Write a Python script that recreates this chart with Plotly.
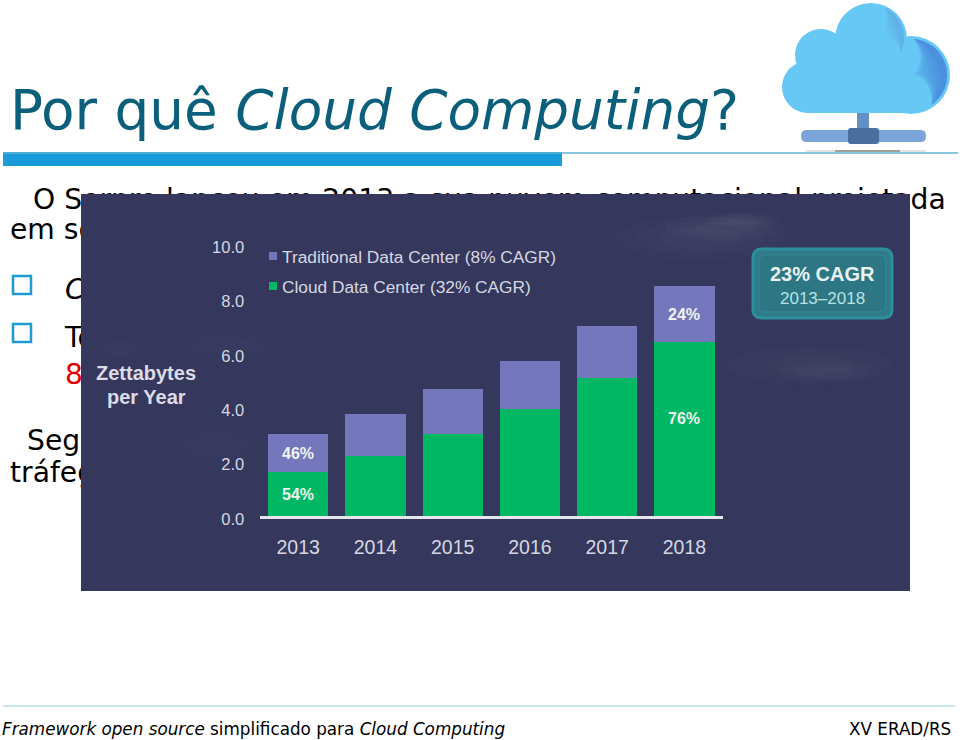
import numpy as np
import plotly.graph_objects as go

# ---- chart data ----
years = ["2013", "2014", "2015", "2016", "2017", "2018"]
cloud_dc = [1.6, 2.2, 3.0, 3.93, 5.07, 6.4]
traditional_dc = [1.4, 1.55, 1.67, 1.77, 1.93, 2.06]
y_ticks = [0, 2, 4, 6, 8, 10]
legend_labels = ["Traditional Data Center (8% CAGR)", "Cloud Data Center (32% CAGR)"]
pct_years = ["2013", "2013", "2018", "2018"]
pct_values = [2.3, 0.8, 7.4, 3.6]
pct_labels = ["46%", "54%", "24%", "76%"]

# ---- slide text (x px, y px, text, size, colour, anchor) ----
slide_x = [10, 33, 10, 65, 65, 65, 27, 10]
slide_y = [115, 202, 232, 292, 340, 377, 443, 475]
slide_text = ["Por quê <i>Cloud Computing</i>?",
              "O Serpro lançou em 2013 a sua nuvem computacional projetada",
              "em so", "<i>C</i>", "To", "8", "Seg", "tráfeg"]
slide_size = [54.8, 28.2, 28.2, 28.2, 28.2, 28.2, 28.2, 28.2]
slide_color = ["#0b5f7a", "#000", "#000", "#000", "#000", "#e00000", "#000", "#000"]

W, H = 960, 740
BG = "#35375c"
PURPLE = "#7577bd"
GREEN = "#00b864"
LABEL = "#d6d7e2"
SANS = "Liberation Sans"


def px(x):
    return x / W


def py(y):
    return 1 - y / H


def ellipse(cx, cy, rx, ry):
    t = np.linspace(0, 2 * np.pi, 60)
    return cx + rx * np.cos(t), cy + ry * np.sin(t)


def crescent(cx, cy, r, a0, a1, w):
    t = np.radians(np.linspace(a0, a1, 50))
    thick = w * np.sin(np.linspace(0, np.pi, 50))
    xo, yo = cx + r * np.cos(t), cy + r * np.sin(t)
    xi, yi = cx + (r - thick) * np.cos(t), cy + (r - thick) * np.sin(t)
    xs = np.concatenate([xo, xi[::-1]])
    ys = np.concatenate([yo, yi[::-1]])
    return "M" + "L".join(f"{a:.1f},{b:.1f}" for a, b in zip(xs, ys)) + "Z"


fig = go.Figure()

# text that lies behind the picture
fig.add_trace(go.Scatter(x=slide_x, y=slide_y, text=slide_text, mode="text",
                         textposition="middle right", cliponaxis=False, showlegend=False,
                         hoverinfo="skip",
                         textfont=dict(family="DejaVu Sans", size=slide_size, color=slide_color),
                         xaxis="x", yaxis="y"))
# the dark picture panel covering it
fig.add_trace(go.Scatter(x=[81, 910, 910, 81, 81], y=[194, 194, 591, 591, 194], mode="lines",
                         fill="toself", fillcolor=BG, line=dict(width=0), showlegend=False,
                         hoverinfo="skip", xaxis="x", yaxis="y"))
# faint clouds in the panel background (several soft layers)
for cx, cy, rx, ry, a in [(700, 238, 85, 22, .02), (725, 228, 60, 14, .022), (745, 220, 36, 8, .022),
                          (810, 365, 85, 20, .015), (830, 372, 50, 11, .018), (230, 345, 60, 12, .012),
                          (215, 445, 50, 16, .012), (120, 350, 30, 12, .012)]:
    for k in (1.0, 0.75, 0.5):
        ex, ey = ellipse(cx, cy, rx * k, ry * k)
        fig.add_trace(go.Scatter(x=ex, y=ey, mode="lines", fill="toself", line=dict(width=0),
                                 fillcolor=f"rgba(200,200,220,{a})", showlegend=False,
                                 hoverinfo="skip", xaxis="x", yaxis="y"))

# stacked bars on their own axes, drawn over the panel
fig.add_trace(go.Bar(x=years, y=cloud_dc, name="Cloud Data Center", marker=dict(color=GREEN, line_width=0),
                     showlegend=False, xaxis="x2", yaxis="y2"))
fig.add_trace(go.Bar(x=years, y=traditional_dc, name="Traditional Data Center",
                     marker=dict(color=PURPLE, line_width=0),
                     showlegend=False, xaxis="x2", yaxis="y2"))

shapes = [
    # title rules
    dict(type="rect", x0=3, x1=562, y0=152, y1=166, fillcolor="#1a9bdb", line_width=0),
    dict(type="line", x0=3, x1=958, y0=153, y1=153, line=dict(color="#5fb3d3", width=1.5)),
    # footer rule
    dict(type="line", x0=3, x1=955, y0=706, y1=706, line=dict(color="#b5dcea", width=1.5)),
    # bullets
    dict(type="rect", x0=13, x1=31, y0=276, y1=294, line=dict(color="#1e9bd1", width=2.5)),
    dict(type="rect", x0=13, x1=31, y0=324, y1=342, line=dict(color="#1e9bd1", width=2.5)),
    # cloud icon
    dict(type="circle", x0=835, x1=907, y0=3, y1=75, fillcolor="#66c8f5", line_width=0),
    dict(type="circle", x0=795, x1=847, y0=29, y1=81, fillcolor="#66c8f5", line_width=0),
    dict(type="circle", x0=782, x1=834, y0=61, y1=113, fillcolor="#66c8f5", line_width=0),
    dict(type="circle", x0=872, x1=950, y0=36, y1=114, fillcolor="#66c8f5", line_width=0),
    dict(type="rect", x0=808, x1=915, y0=50, y1=113, fillcolor="#66c8f5", line_width=0),
    dict(type="rect", x0=857, x1=869, y0=113, y1=132, fillcolor="#6290c4", line_width=0),
    dict(type="path", path="M806,130H921Q926,130 926,136Q926,142 921,142H806Q801,142 801,136Q801,130 806,130Z",
         fillcolor="#7aa5d6", line_width=0),
    dict(type="path", path="M851,128H876Q879,128 879,131V141Q879,144 876,144H851Q848,144 848,141V131Q848,128 851,128Z",
         fillcolor="#4a6f9f", line_width=0),
    dict(type="line", x0=806, x1=926, y0=151, y1=151, line=dict(color="#d8d8d4", width=1.5)),
    dict(type="line", x0=835, x1=900, y0=151, y1=151, line=dict(color="#8f8a82", width=1.5)),
    # legend swatches
    dict(type="rect", x0=269, x1=277, y0=252, y1=260, fillcolor=PURPLE, line_width=0),
    dict(type="rect", x0=269, x1=277, y0=282, y1=290, fillcolor=GREEN, line_width=0),
    # badge
    dict(type="path", path="M762,249H883Q892,249 892,258V309Q892,318 883,318H762Q753,318 753,309V258Q753,249 762,249Z",
         fillcolor="#2f7c88", line=dict(color="#2d8f9c", width=3)),
    dict(type="path", path="M766,255H879Q886,255 886,262V305Q886,312 879,312H766Q759,312 759,305V262Q759,255 766,255Z",
         fillcolor="rgba(40,100,115,0.25)", line=dict(color="#348a96", width=1)),
]
for w in [8, 13, 18, 23, 28, 33]:
    shapes.append(dict(type="path", path=crescent(911, 75, 36, -85, 55, w),
                       fillcolor="rgba(63,120,214,0.16)", line_width=0))
for w in [4, 8, 12, 16]:
    shapes.append(dict(type="path", path=crescent(871, 38, 33, -65, 25, w),
                       fillcolor="rgba(90,145,215,0.13)", line_width=0))
for s in shapes:
    s.update(xref="x", yref="y", layer="above")


def note(x, y, text, size, color, bold=False, family=SANS, anchor="center", xref="x", yref="y"):
    return dict(x=x, y=y, xref=xref, yref=yref, text=f"<b>{text}</b>" if bold else text,
                showarrow=False, xanchor=anchor, yanchor="middle",
                font=dict(family=family, size=size, color=color))


annotations = [
    note(146, 373, "Zettabytes", 20, "#dcdce6", True),
    note(146, 397, "per Year", 20, "#dcdce6", True),
    note(280, 257, legend_labels[0], 17.3, LABEL, anchor="left"),
    note(280, 287, legend_labels[1], 17.3, LABEL, anchor="left"),
    note(822, 274, "23% CAGR", 20, "#e8f2f3", True),
    note(822, 298, "2013–2018", 17, "#b9e2e6"),
    note(0, 729, "<i>Framework open source</i> simplificado para <i>Cloud Computing</i>", 16.8, "#000",
         family="DejaVu Sans", anchor="left"),
    note(953, 729, "XV ERAD/RS", 16.8, "#000", family="DejaVu Sans", anchor="right"),
]
for yr, val, lab in zip(pct_years, pct_values, pct_labels):
    annotations.append(note(years.index(yr), val, lab, 16, "#eef3ee", True, xref="x2", yref="y2"))

fig.update_layout(
    width=W, height=H, margin=dict(l=0, r=0, t=0, b=0, pad=0, autoexpand=False),
    paper_bgcolor="#ffffff", plot_bgcolor="rgba(0,0,0,0)",
    showlegend=False, barmode="stack", bargap=0.22,
    shapes=shapes, annotations=annotations,
    xaxis=dict(domain=[0, 1], range=[0, W], visible=False, fixedrange=True),
    yaxis=dict(domain=[0, 1], range=[H, 0], visible=False, fixedrange=True),
    xaxis2=dict(domain=[px(259.5), px(723)], anchor="y2", type="category", range=[-0.5, 5.5],
                showline=True, linecolor="#e6e6ef", linewidth=2.5, showgrid=False, zeroline=False,
                ticks="outside", ticklen=12, tickcolor="rgba(0,0,0,0)",
                tickfont=dict(family=SANS, size=19.5, color=LABEL)),
    yaxis2=dict(domain=[py(516), py(244)], anchor="x2", range=[0, 10], tickvals=y_ticks, tickformat=".1f",
                showline=False, showgrid=False, zeroline=False,
                ticks="outside", ticklen=11, tickcolor="rgba(0,0,0,0)", ticklabelshift=3,
                tickfont=dict(family=SANS, size=16.5, color=LABEL)),
)

fig.write_html("out.html", config={"displayModeBar": False},
               post_script="document.body.style.margin='0';document.documentElement.style.overflow='hidden';")
